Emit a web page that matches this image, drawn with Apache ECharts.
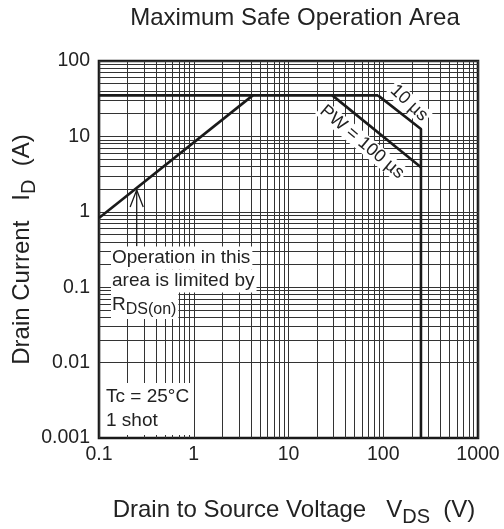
<!DOCTYPE html>
<html><head><meta charset="utf-8">
<script src="https://cdn.jsdelivr.net/npm/echarts/dist/echarts.min.js"></script>
<style>html,body{margin:0;padding:0;background:#fff}#c{width:504px;height:529px}</style>
</head><body><div id="c"></div>
<script>
// ---- data ----
const xTicks = [0.1, 1, 10, 100, 1000];
const yTicks = [0.001, 0.01, 0.1, 1, 10, 100];
const minorSteps = [1, 2, 3, 4, 5, 6, 7, 8, 9];
const rdsLimit = [[0.1, 0.83], [4.2, 35]];
const currentLimit = [[0.1, 35], [88, 35]];
const pw10us = [[88, 35], [250, 12.5], [250, 0.001]];
const pw100us = [[29, 35], [250, 3.9]];
const arrowShaft = [[0.25, 0.35], [0.25, 1.95]];
const arrowHead = [[0.213, 1.16], [0.25, 1.95], [0.293, 1.16]];

// ---- gridline values (log paper) ----
function logGrid(ticks) {
  const out = [];
  for (let i = 0; i < ticks.length - 1; i++) minorSteps.forEach(s => out.push(+(ticks[i] * s).toPrecision(3)));
  out.push(ticks[ticks.length - 1]);
  return out;
}
const xGrid = logGrid(xTicks);
const yGrid = logGrid(yTicks);

const FONT = '"Liberation Sans", Arial, Helvetica, sans-serif';
const TXT = '#222';
const fmt = v => String(+(+v).toPrecision(3));

const chart = echarts.init(document.getElementById('c'), null, {renderer: 'canvas'});
const lineStyle = {color: '#1a1a1a', width: 2.6};
const mainLine = (name, data) => ({
  name, type: 'line', data, showSymbol: false, symbol: 'none', z: 5,
  lineStyle, silent: true, animation: false
});

chart.setOption({
  animation: false,
  backgroundColor: '#fff',
  title: {
    text: 'Maximum Safe Operation Area', left: 290, top: 1, textAlign: 'center',
    textStyle: {fontFamily: FONT, fontSize: 24, fontWeight: 'normal', color: TXT}
  },
  grid: {left: 99, right: 26, top: 61, bottom: 91, show: true, borderColor: '#1a1a1a', borderWidth: 2.6,
    backgroundColor: 'transparent', containLabel: false, outerBoundsMode: 'none'},
  xAxis: {
    type: 'log', min: xTicks[0], max: xTicks[xTicks.length - 1], logBase: 10,
    axisLine: {show: false}, axisTick: {show: false}, splitLine: {show: false}, minorTick: {show: false},
    axisLabel: {formatter: fmt, fontFamily: FONT, fontSize: 19.5, color: TXT, margin: 7},
    name: 'Drain to Source Voltage   V{s|DS}  (V)', nameLocation: 'middle', nameGap: 56, nameMoveOverlap: false,
    nameTextStyle: {fontFamily: FONT, fontSize: 24, color: TXT, padding: [0, 0, 0, 11],
      rich: {s: {fontFamily: FONT, fontSize: 20, color: TXT, padding: [13, 0, 0, 0]}}}
  },
  yAxis: {
    type: 'log', min: yTicks[0], max: yTicks[yTicks.length - 1], logBase: 10,
    axisLine: {show: false}, axisTick: {show: false}, splitLine: {show: false}, minorTick: {show: false},
    axisLabel: {formatter: fmt, fontFamily: FONT, fontSize: 19.5, color: TXT, margin: 9},
    name: 'Drain Current   I{s|D}  (A)', nameLocation: 'middle', nameGap: 60, nameRotate: 90, nameMoveOverlap: false,
    nameTextStyle: {fontFamily: FONT, fontSize: 24, color: TXT,
      rich: {s: {fontFamily: FONT, fontSize: 20, color: TXT, padding: [13, 0, 0, 0]}}}
  },
  series: [
    {
      type: 'line', data: [], silent: true, z: 1,
      markLine: {
        silent: true, symbol: ['none', 'none'], animation: false, label: {show: false},
        lineStyle: {color: '#333', width: 1, type: 'solid'},
        emphasis: {disabled: true},
        data: [...xGrid.map(v => ({xAxis: v})), ...yGrid.map(v => ({yAxis: v}))]
      }
    },
    mainLine('RDS(on) limit', rdsLimit),
    mainLine('ID limit', currentLimit),
    mainLine('10 µs', pw10us),
    mainLine('PW = 100 µs', pw100us),
    {type: 'line', data: arrowShaft, showSymbol: false, symbol: 'none', z: 5, silent: true, lineStyle: {color: '#1a1a1a', width: 1.3}},
    {type: 'line', data: arrowHead, showSymbol: false, symbol: 'none', z: 5, silent: true, lineStyle: {color: '#1a1a1a', width: 1.3}}
  ],
  graphic: [
    {type: 'text', x: 111, y: 258, z: 100, style: {text: 'Operation in this', font: '19px ' + FONT, fill: TXT, verticalAlign: 'middle', backgroundColor: '#fff', padding: [2, 2, 2, 1]}},
    {type: 'text', x: 111, y: 281, z: 100, style: {text: 'area is limited by', font: '19px ' + FONT, fill: TXT, verticalAlign: 'middle', backgroundColor: '#fff', padding: [2, 2, 2, 1]}},
    {type: 'text', x: 111, y: 305, z: 100, style: {text: '{r|R}{s|DS(on)}', verticalAlign: 'middle', backgroundColor: '#fff', padding: [1, 2, 1, 1],
      rich: {r: {fontFamily: FONT, fontSize: 19, fill: TXT, color: TXT}, s: {fontFamily: FONT, fontSize: 16, fill: TXT, color: TXT, padding: [10, 0, 0, 0]}}}},
    {type: 'text', x: 104, y: 409, z: 100, style: {text: 'Tc = 25°C\n1 shot', font: '19px ' + FONT, fill: TXT, lineHeight: 24, verticalAlign: 'middle', backgroundColor: '#fff', padding: [2, 4, 2, 2]}},
    {type: 'text', x: 409, y: 103, rotation: -43 * Math.PI / 180, z: 100, style: {text: '10 µs', font: '18px ' + FONT, fill: TXT, align: 'center', verticalAlign: 'middle', backgroundColor: '#fff', padding: [0, 2]}},
    {type: 'text', x: 362, y: 142, rotation: -40 * Math.PI / 180, z: 100, style: {text: 'PW = 100 µs', font: '18px ' + FONT, fill: TXT, align: 'center', verticalAlign: 'middle', backgroundColor: '#fff', padding: [0, 2]}}
  ]
});
</script></body></html>
